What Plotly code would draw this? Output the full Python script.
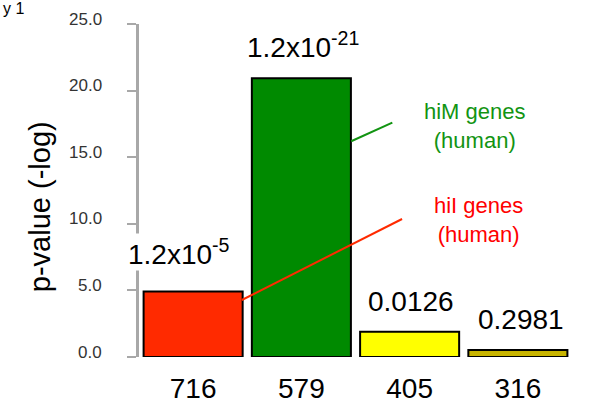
import plotly.graph_objects as go

categories = ["716", "579", "405", "316"]
neg_log_p = [4.92, 20.92, 1.90, 0.53]
p_labels = ["1.2x10<sup>-5</sup>", "1.2x10<sup>-21</sup>", "0.0126", "0.2981"]
bar_colors = ["#ff2a00", "#008a00", "#ffff00", "#c8b400"]
ytick_vals = [0, 5, 10, 15, 20, 25]
ytick_text = ["0.0", "5.0", "10.0", "15.0", "20.0", "25.0"]

FONT = "Liberation Sans, Arial, Helvetica, sans-serif"

fig = go.Figure()
fig.add_trace(go.Bar(
    x=categories, y=neg_log_p,
    marker=dict(color=bar_colors, line=dict(color="black", width=2)),
    showlegend=False, hoverinfo="skip",
))

annotations = []
# y tick labels (shifted slightly above their ticks, as in the reference)
for v, t in zip(ytick_vals, ytick_text):
    annotations.append(dict(
        xref="paper", yref="y", x=0, y=v, text=t, showarrow=False,
        xanchor="right", yanchor="middle", xshift=-35, yshift=5,
        font=dict(family=FONT, size=17, color="#333333"),
    ))

# value labels above bars
label_xshift = [-14, 2, 1, 3]
label_yshift = [20, 14, 14, 14]
for i, (v, t, xs, ys) in enumerate(zip(neg_log_p, p_labels, label_xshift, label_yshift)):
    annotations.append(dict(
        xref="x", yref="y", x=i, y=v, text=t, showarrow=False,
        xanchor="center", yanchor="bottom", xshift=xs, yshift=ys,
        bgcolor="white", borderpad=0,
        font=dict(family=FONT, size=28, color="black"),
    ))

# y-axis title
annotations.append(dict(
    xref="paper", yref="paper", x=-0.2286, y=0.45, text="p-value (-log)",
    showarrow=False, textangle=-90, xanchor="center", yanchor="middle",
    font=dict(family=FONT, size=29, color="black"),
))

# legend-like callouts
annotations.append(dict(
    xref="paper", yref="paper", x=0.776, y=0.695, text="hiM genes<br>(human)",
    showarrow=False, xanchor="center", yanchor="middle",
    font=dict(family=FONT, size=22, color="#129412"),
))
annotations.append(dict(
    xref="paper", yref="paper", x=0.785, y=0.41, text="hiI genes<br>(human)",
    showarrow=False, xanchor="center", yanchor="middle",
    font=dict(family=FONT, size=22, color="#ff0000"),
))

# figure label at top-left
annotations.append(dict(
    xref="paper", yref="paper", x=-0.3187, y=1.048, text="y 1",
    showarrow=False, xanchor="left", yanchor="middle",
    font=dict(family=FONT, size=16, color="black"),
))

shapes = [
    dict(type="line", xref="x", yref="y", x0=1.46, y0=16.2, x1=1.84, y1=17.6,
         line=dict(color="#129412", width=2)),
    dict(type="line", xref="x", yref="y", x0=0.45, y0=4.28, x1=1.93, y1=10.36,
         line=dict(color="#ff2a00", width=2)),
]

fig.update_layout(
    width=589, height=408,
    margin=dict(l=139, r=17, t=24, b=51, pad=0),
    paper_bgcolor="white", plot_bgcolor="white",
    bargap=0.085,
    annotations=annotations,
    shapes=shapes,
    xaxis=dict(
        type="category", automargin=False,
        range=[-0.5, 3.5], showline=False, showgrid=False, zeroline=False,
        ticks="", tickfont=dict(family=FONT, size=28, color="black"),
        ticklabelstandoff=12,
    ),
    yaxis=dict(
        range=[0, 25], showline=True, linecolor="#a8a8a8", linewidth=2.5,
        showgrid=False, zeroline=False, automargin=False,
        tickvals=ytick_vals, ticks="outside", ticklen=9, tickwidth=2,
        tickcolor="#a8a8a8", showticklabels=False,
    ),
)

fig.write_html("out.html")
